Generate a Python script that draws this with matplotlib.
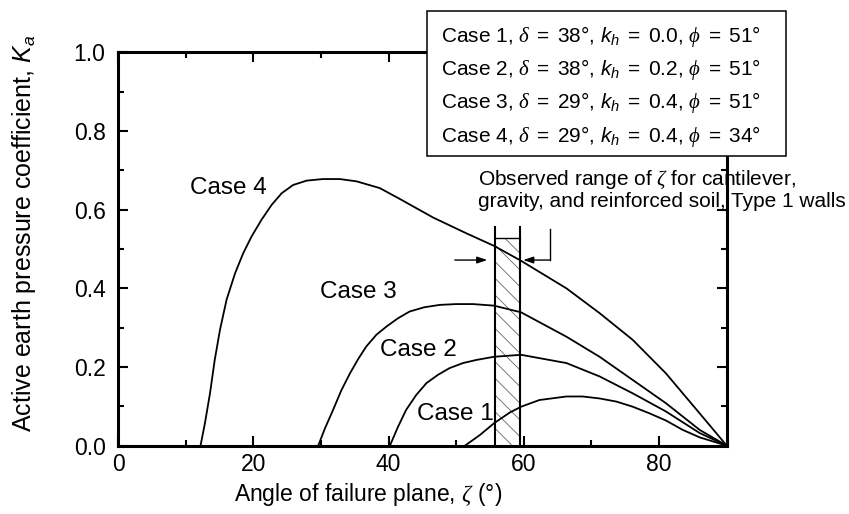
import matplotlib
matplotlib.use("Agg")
import matplotlib.pyplot as plt
from matplotlib.patches import Rectangle
from matplotlib.ticker import MultipleLocator, FormatStrFormatter

plt.rcParams["font.family"] = ["Liberation Sans", "DejaVu Sans"]
plt.rcParams["mathtext.fontset"] = "custom"
plt.rcParams["mathtext.rm"] = "Liberation Sans"
plt.rcParams["mathtext.it"] = "Liberation Sans:italic"
plt.rcParams["mathtext.cal"] = "Liberation Serif:italic"
plt.rcParams["hatch.linewidth"] = 0.6
plt.rcParams["hatch.color"] = "#666666"

# Active earth pressure coefficient vs. angle of failure plane
case4_x = [12.2, 12.85, 13.6, 14.3, 15.07, 16.05, 17.3, 18.5, 19.75, 21.2, 22.7, 24.2, 25.9,
           27.9, 30.3, 32.8, 35.3, 38.7, 41.7, 46.6, 51.5, 55.6, 59.6, 66.3, 71.2, 76.1,
           81.0, 86.0, 90.0]
case4_y = [0.0, 0.057, 0.133, 0.218, 0.294, 0.371, 0.438, 0.489, 0.532, 0.574, 0.612, 0.642,
           0.663, 0.674, 0.678, 0.678, 0.672, 0.655, 0.627, 0.580, 0.540, 0.508, 0.470, 0.400,
           0.337, 0.269, 0.184, 0.082, 0.0]

case3_x = [29.6, 30.6, 31.8, 33.0, 34.3, 35.5, 36.7, 38.2, 39.7, 41.4, 43.1, 45.3, 47.6, 50.0,
           52.5, 55.6, 59.6, 66.3, 71.2, 76.1, 81.0, 86.0, 90.0]
case3_y = [0.0, 0.044, 0.091, 0.140, 0.184, 0.220, 0.252, 0.282, 0.303, 0.324, 0.341, 0.352,
           0.358, 0.360, 0.360, 0.356, 0.339, 0.277, 0.226, 0.167, 0.108, 0.040, 0.0]

case2_x = [40.2, 41.4, 42.6, 44.1, 45.6, 47.3, 49.0, 51.0, 53.0, 55.6, 59.6, 66.3, 71.2, 76.1,
           81.0, 86.0, 90.0]
case2_y = [0.0, 0.048, 0.091, 0.129, 0.159, 0.180, 0.197, 0.210, 0.218, 0.226, 0.231, 0.210,
           0.176, 0.133, 0.087, 0.032, 0.0]

case1_x = [51.3, 53.5, 55.6, 57.9, 59.6, 62.3, 66.3, 68.7, 71.2, 73.7, 76.1, 78.6, 81.0, 83.5,
           86.0, 90.0]
case1_y = [0.0, 0.027, 0.057, 0.084, 0.099, 0.116, 0.125, 0.125, 0.120, 0.112, 0.099, 0.082,
           0.064, 0.040, 0.021, 0.0]

case_labels = ["Case 1", "Case 2", "Case 3", "Case 4"]
label_x = [44.2, 38.7, 29.8, 10.6]
label_y = [0.081, 0.244, 0.391, 0.656]

legend_lines = [
    r"Case 1, $\mathcal{δ}\;=\;38°$, $k_h\;=\;0.0$, $\mathcal{ϕ}\;=\;51°$",
    r"Case 2, $\mathcal{δ}\;=\;38°$, $k_h\;=\;0.2$, $\mathcal{ϕ}\;=\;51°$",
    r"Case 3, $\mathcal{δ}\;=\;29°$, $k_h\;=\;0.4$, $\mathcal{ϕ}\;=\;51°$",
    r"Case 4, $\mathcal{δ}\;=\;29°$, $k_h\;=\;0.4$, $\mathcal{ϕ}\;=\;34°$",
]

# Observed range of failure-plane angle
range_lo, range_hi = 55.7, 59.5
range_top = 0.528
range_line_top = 0.557

fig = plt.figure(figsize=(8.49, 5.14), dpi=100)
ax = fig.add_axes([0.139, 0.133, 0.717, 0.765])

lw = 1.3
for xs, ys in [(case1_x, case1_y), (case2_x, case2_y), (case3_x, case3_y), (case4_x, case4_y)]:
    ax.plot(xs, ys, color="black", lw=lw, solid_joinstyle="round", zorder=3)

for t, x, y in zip(case_labels, label_x, label_y):
    ax.text(x, y, t, fontsize=17.5, ha="left", va="center", zorder=4)

# hatched band
ax.add_patch(Rectangle((range_lo, 0), range_hi - range_lo, range_top, facecolor="none",
                       edgecolor="#666666", hatch="\\\\", lw=0, zorder=2))
ax.plot([range_lo, range_hi], [range_top, range_top], color="black", lw=1.0, zorder=3)
ax.plot([range_lo, range_lo], [0, range_line_top], color="black", lw=1.5, zorder=3)
ax.plot([range_hi, range_hi], [0, range_line_top], color="black", lw=1.5, zorder=3)

arrow_kw = dict(arrowstyle="-|>,head_length=0.6,head_width=0.2", color="black", lw=1.0,
                shrinkA=0, shrinkB=0)
ax.annotate("", xy=(54.6, 0.472), xytext=(49.8, 0.472), arrowprops=arrow_kw)
ax.plot([63.8, 63.8], [0.551, 0.472], color="black", lw=1.0)
ax.annotate("", xy=(59.9, 0.472), xytext=(63.8, 0.472), arrowprops=arrow_kw)

ax.text(53.2, 0.663, r"Observed range of $\mathcal{ζ}$ for cantilever,", fontsize=15,
        ha="left", va="baseline")
ax.text(53.2, 0.606, "gravity, and reinforced soil, Type 1 walls", fontsize=15,
        ha="left", va="baseline")

ax.set_xlim(0, 90)
ax.set_ylim(0, 1.0)
ax.xaxis.set_major_locator(MultipleLocator(20))
ax.xaxis.set_minor_locator(MultipleLocator(10))
ax.yaxis.set_major_locator(MultipleLocator(0.2))
ax.yaxis.set_minor_locator(MultipleLocator(0.1))
ax.yaxis.set_major_formatter(FormatStrFormatter("%.1f"))
ax.tick_params(which="both", direction="in", top=True, right=True, width=1.5)
ax.tick_params(which="major", length=7)
ax.tick_params(which="minor", length=4)
ax.tick_params(axis="y", which="major", labelsize=16.5, pad=9)
ax.tick_params(axis="x", which="major", labelsize=16.5, pad=5)
for s in ax.spines.values():
    s.set_linewidth(2.2)

ax.set_xlabel(r"Angle of failure plane, $\mathcal{ζ}$ (°)", fontsize=16.5)
ax.xaxis.set_label_coords(0.41, -0.09)
ax.set_ylabel(r"Active earth pressure coefficient, $K_a$", fontsize=18)
ax.yaxis.set_label_coords(-0.132, 0.54)

# legend box on top of the frame
ax.add_patch(Rectangle((0.507, 0.737), 0.591, 0.369, transform=ax.transAxes,
                       facecolor="white", edgecolor="black", lw=1.1, clip_on=False, zorder=5))
for i, line in enumerate(legend_lines):
    ax.text(0.531, 1.0275 - i * 0.0848, line, transform=ax.transAxes, fontsize=15,
            ha="left", va="baseline", zorder=6)

fig.savefig("out.png", dpi=100)
